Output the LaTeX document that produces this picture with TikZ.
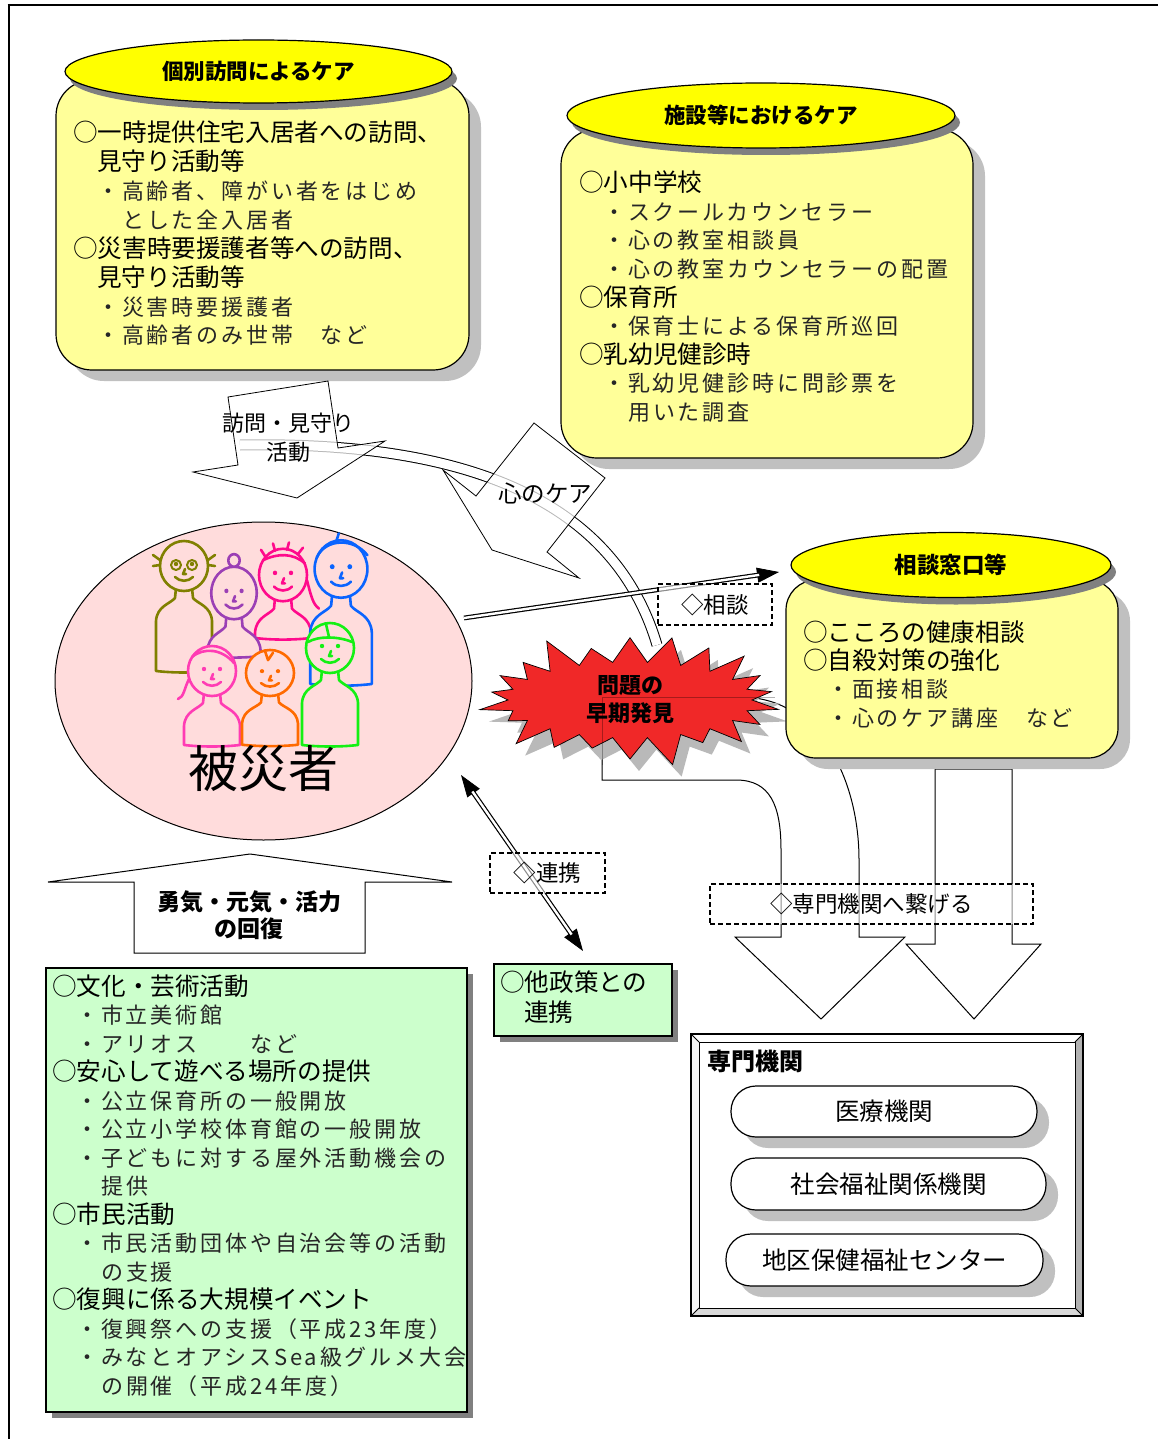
\documentclass[tikz,border=0pt]{standalone}
\usepackage{fontspec}
\setmainfont{Noto Sans CJK JP}
\newfontfamily\mcfont[LetterSpace=13]{Noto Sans CJK JP}
\usetikzlibrary{shapes.geometric,shapes.symbols,shadows,arrows.meta}
\definecolor{capyellow}{HTML}{FFFF00}
\definecolor{boxyellow}{HTML}{FFFF99}
\definecolor{shgray}{HTML}{C0C0C0}
\definecolor{dkgray}{HTML}{808080}
\definecolor{lgreen}{HTML}{CCFFCC}
\definecolor{pinkbg}{HTML}{FFDCDC}
\definecolor{burstred}{HTML}{F02828}
\definecolor{pOlive}{HTML}{808000}
\definecolor{pPurple}{HTML}{9B3FB5}
\definecolor{pMagenta}{HTML}{FF0A8C}
\definecolor{pBlue}{HTML}{0A64FF}
\definecolor{pPink}{HTML}{FF3CB4}
\definecolor{pOrange}{HTML}{FF6A00}
\definecolor{pGreen}{HTML}{14F014}
\newcommand\Hd[1]{{\fontsize{24.6}{28}\selectfont #1}}
\newcommand\Hc[1]{\hspace*{24pt}{\fontsize{24.6}{28}\selectfont #1}}
\newcommand\Bl[1]{\hspace*{24pt}{\mcfont\fontsize{22}{28}\selectfont\color{black!85}・#1}}
\newcommand\Bc[1]{\hspace*{49pt}{\mcfont\fontsize{22}{28}\selectfont\color{black!85}#1}}
\newcommand\person[7]{%
\begin{scope}[shift={(#1,#2)}, xscale=#4, yscale=#5, line width=2.6pt, line cap=round, line join=round, draw=#3]
\filldraw[fill=pinkbg] (-8,22) -- (-9,32) .. controls (-14,38) and (-27,40) .. (-28,55) -- (-28,#6) .. controls (-10,#6+2) and (10,#6+2) .. (28,#6) -- (28,55) .. controls (27,40) and (14,38) .. (9,32) -- (8,22);
\filldraw[fill=pinkbg] (0,0) ellipse [x radius=24, y radius=25];
\fill[#3] (-8,-2) circle [radius=2.2] (8,-2) circle [radius=2.2];
\draw (1,3) -- (-1,8) -- (2,8);
\draw (-9,11) .. controls (-4,16) and (4,16) .. (9,11);
#7
\end{scope}}
\begin{document}
\begin{tikzpicture}[x=1pt, y=-1pt,
  capstyle/.style={ellipse, draw=black, line width=1.2pt, fill=capyellow, inner sep=0pt, font=\bfseries\fontsize{21.5}{24}\selectfont, drop shadow={shadow xshift=5pt, shadow yshift=-7pt, fill=dkgray, opacity=1}},
  boxstyle/.style={draw=black, line width=1.2pt, fill=boxyellow, rounded corners=36pt, drop shadow={shadow xshift=12pt, shadow yshift=-11pt, fill=shgray, opacity=1}},
  greenbox/.style={draw=black, line width=1.3pt, fill=lgreen, drop shadow={shadow xshift=6pt, shadow yshift=-6pt, fill=dkgray, opacity=1}},
  txt/.style={anchor=base west, inner sep=0pt},
  blockarrow/.style={draw=black, line width=0.8pt, fill=white, fill opacity=0.72},
  dashbox/.style={draw=black, line width=1.1pt, dash pattern=on 5pt off 3pt, fill=white, fill opacity=0.55, text opacity=1, font=\fontsize{22.5}{24}\selectfont},
  pill/.style={draw=black, line width=1.2pt, fill=white, rounded corners=25pt, font=\fontsize{24.5}{26}\selectfont, drop shadow={shadow xshift=12pt, shadow yshift=-11pt, fill=shgray, opacity=1}},
  dbl/.style={double=white, double distance=2.4pt, line width=1.2pt},
  tip/.style={line width=0.8pt, -{Triangle[length=22pt,width=15pt]}},
  tips/.style={line width=0.8pt, {Triangle[length=22pt,width=15pt]}-{Triangle[length=22pt,width=15pt]}},
]
\useasboundingbox (0,0) rectangle (1158,1439);
% frame
\draw[line width=2.6pt] (7.5,5) -- (1158,5);
\draw[line width=2pt] (8.5,4) -- (8.5,1439);

% box 1
\node[boxstyle, minimum width=413pt, minimum height=290pt] (box1) at (262.5,225) {};
\node[capstyle, minimum width=387pt, minimum height=63pt] (cap1) at (258.5,71.5) {個別訪問によるケア};
\foreach \t [count=\i] in {\Hd{○一時提供住宅入居者への訪問、},\Hc{見守り活動等},\Bl{高齢者、障がい者をはじめ},\Bc{とした全入居者},\Hd{○災害時要援護者等への訪問、},\Hc{見守り活動等},\Bl{災害時要援護者},\Bl{高齢者のみ世帯　など}}
  \node[txt] (b1-\i) at (73,{142+(\i-1)*28.85}) {\t};

% box 2
\node[boxstyle, minimum width=412pt, minimum height=329pt] (box2) at (767,293.5) {};
\node[capstyle, minimum width=388pt, minimum height=65pt] (cap2) at (761,115.5) {施設等におけるケア};
\foreach \t [count=\i] in {\Hd{○小中学校},\Bl{スクールカウンセラー},\Bl{心の教室相談員},\Bl{心の教室カウンセラーの配置},\Hd{○保育所},\Bl{保育士による保育所巡回},\Hd{○乳幼児健診時},\Bl{乳幼児健診時に問診票を},\Bc{用いた調査}}
  \node[txt] (b2-\i) at (579,{192+(\i-1)*28.5}) {\t};

% curved band
\draw[double=white, double distance=9pt, line width=1pt] (240,445) .. controls (500,440) and (620,520) .. (657,645);

% block arrows
\draw[blockarrow] (228,397) -- (328,381) -- (338,448) -- (385,441) -- (297,498) -- (193,472) -- (238,465) -- cycle;
\node[font=\fontsize{22}{29}\selectfont, align=center, inner sep=0pt] (houmon) at (288,438) {訪問・見守り\\活動};
\draw[blockarrow] (534,423) -- (605,478) -- (547,552) -- (579,578) -- (492,550) -- (443,470) -- (476,496) -- cycle;
\node[font=\fontsize{23.5}{26}\selectfont, inner sep=0pt] (kokoro) at (545,493) {心のケア};

% arrows to specialist institutions
\draw[line width=1pt, fill=white] (602,697) -- (740,697) .. controls (820,697) and (859,780) .. (859,860) -- (859,937) -- (905,937) -- (821,1019) -- (735,937) -- (781,937) -- (781,850) .. controls (781,805) and (770,780) .. (736,780) -- (602,780) -- cycle;
\draw[line width=1pt, fill=white] (935,769) -- (1012,769) -- (1012,944) -- (1041,944) -- (974,1019) -- (906,944) -- (935,944) -- cycle;

% victims
\node[ellipse, draw=black, line width=1pt, fill=pinkbg, minimum width=417pt, minimum height=318pt, inner sep=0pt] (victims) at (263.5,681) {};
\person{184}{566}{pOlive}{1}{1}{105}{\draw[line width=2pt] (-8,-1) circle [radius=5] (8,-1) circle [radius=5]; \draw (-24,-6) -- (-31,-11) (-24,-1) -- (-31,0) (24,-6) -- (31,-11) (24,-1) -- (31,0);}
\person{283}{575}{pMagenta}{1}{1.05}{60}{\draw (-18,-18) -- (-22,-24) (-8,-23) -- (-10,-30) (4,-24) -- (6,-31) (15,-20) -- (20,-26); \draw (-20,-14) .. controls (-5,-21) and (10,-21) .. (22,-11); \draw (24,5) .. controls (28,20) and (30,28) .. (36,32);}
\person{341}{569}{pBlue}{1.1}{1.15}{100}{\draw (-22,-10) .. controls (-14,-27) and (12,-27) .. (24,-12); \draw (-4,-25) -- (-2,-31);}
\person{234}{593}{pPurple}{0.95}{1.05}{60}{\filldraw[fill=pinkbg] (0,-31) circle [radius=6];}
\person{212}{671}{pPink}{1}{1}{74}{\draw (-20,-14) .. controls (-8,-24) and (10,-22) .. (22,-8); \draw (-23,8) .. controls (-28,18) and (-28,26) .. (-34,28);}
\person{270}{673}{pOrange}{1}{0.92}{78}{\draw (-5,-24) -- (-2,-14) -- (3,-22);}
\person{330}{648}{pGreen}{1}{1}{97}{\draw (-22,-6) .. controls (-12,-12) and (8,-12) .. (22,-6); \draw (-4,-24) -- (-1,-11);}
\node[font=\fontsize{50}{54}\selectfont, inner sep=0pt] (hisaisha) at (263,769) {被災者};

% double arrows
\coordinate (s1) at (464,618);
\coordinate (e1) at (779,572);
\draw[tip] (s1) -- (e1);
\draw[dbl, shorten >=20pt] (s1) -- (e1);
\coordinate (s2) at (461,775);
\coordinate (e2) at (583,951);
\draw[tips] (s2) -- (e2);
\draw[dbl, shorten >=20pt, shorten <=20pt] (s2) -- (e2);

% starburst
\node[starburst, starburst points=22, starburst point height=34pt, minimum width=312pt, minimum height=144pt, draw=black, line width=0.7pt, fill=burstred, inner sep=0pt, align=center, font=\bfseries\fontsize{22}{28}\selectfont, drop shadow={shadow xshift=9pt, shadow yshift=-12pt, fill=gray!55, opacity=1}] (burst) at (630,700) {問題の\\早期発見};
\draw[line width=1pt, draw opacity=0.3] (602,765) -- (602,697) -- (775,697);

% box 3
\node[boxstyle, rounded corners=30pt, minimum width=332pt, minimum height=178pt] (box3) at (952,669) {};
\node[capstyle, minimum width=320pt, minimum height=65pt, font=\bfseries\fontsize{22.5}{24}\selectfont] (cap3) at (951,565) {相談窓口等};
\foreach \t [count=\i] in {\Hd{○こころの健康相談},\Hd{○自殺対策の強化},\Bl{面接相談},\Bl{心のケア講座　など}}
  \node[txt] (b3-\i) at (803,{641+(\i-1)*28.4}) {\t};

% dashed labels
\node[dashbox, minimum width=114pt, minimum height=41pt] (d1) at (715,604.5) {◇相談};
\node[dashbox, minimum width=115pt, minimum height=40pt] (d2) at (547.5,873) {◇連携};
\node[dashbox, minimum width=323pt, minimum height=40pt] (d3) at (871.5,904) {◇専門機関へ繋げる};

% up arrow
\draw[line width=1pt, fill=white] (48,882) -- (250,854) -- (452,882) -- (365,882) -- (365,953) -- (134,953) -- (134,882) -- cycle;
\node[align=center, font=\bfseries\fontsize{23}{27}\selectfont, inner sep=0pt] (genki) at (249,915) {勇気・元気・活力\\の回復};

% green boxes
\node[greenbox, minimum width=421pt, minimum height=444pt] (gbox) at (256.5,1190) {};
\foreach \t [count=\i] in {\Hd{○文化・芸術活動},\Bl{市立美術館},\Bl{アリオス　　など},\Hd{○安心して遊べる場所の提供},\Bl{公立保育所の一般開放},\Bl{公立小学校体育館の一般開放},\Bl{子どもに対する屋外活動機会の},\Bc{提供},\Hd{○市民活動},\Bl{市民活動団体や自治会等の活動},\Bc{の支援},\Hd{○復興に係る大規模イベント},\Bl{復興祭への支援（平成23年度）},\Bl{みなとオアシスSea級グルメ大会},\Bc{の開催（平成24年度）}}
  \node[txt] (g-\i) at (52,{995+(\i-1)*28.5}) {\t};
\node[greenbox, minimum width=178pt, minimum height=72pt] (gsmall) at (583,1000) {};
\node[txt] (gs-1) at (500,991) {\Hd{○他政策との}};
\node[txt] (gs-2) at (500,1021) {\Hc{連携}};

% specialist institutions frame
\fill[gray!60] (691,1034) rectangle (1083,1316);
\fill[gray!30] (691,1316) -- (699,1308) -- (1075,1308) -- (1083,1316) -- cycle;
\fill[gray!8] (691,1034) -- (1083,1034) -- (1075,1042) -- (699,1042) -- (699,1308) -- (691,1316) -- cycle;
\fill[white] (691,1034) -- (1083,1034) -- (1075,1042) -- (699,1042) -- cycle;
\node[draw=black, line width=1pt, fill=white, minimum width=376pt, minimum height=266pt, inner sep=0pt] (senmon) at (887,1175) {};
\draw[line width=1.3pt] (691,1034) rectangle (1083,1316);
\draw[line width=0.8pt] (691,1034) -- (699,1042) (1083,1034) -- (1075,1042) (691,1316) -- (699,1308) (1083,1316) -- (1075,1308);
\node[anchor=west, font=\bfseries\fontsize{24}{26}\selectfont, inner sep=0pt] (senmontitle) at (707,1061) {専門機関};
\node[pill, minimum width=306pt, minimum height=51pt] (p1) at (884,1111.5) {医療機関};
\node[pill, minimum width=315pt, minimum height=52pt] (p2) at (888.5,1184) {社会福祉関係機関};
\node[pill, minimum width=317pt, minimum height=52pt] (p3) at (884.5,1260) {地区保健福祉センター};
\end{tikzpicture}
\end{document}
